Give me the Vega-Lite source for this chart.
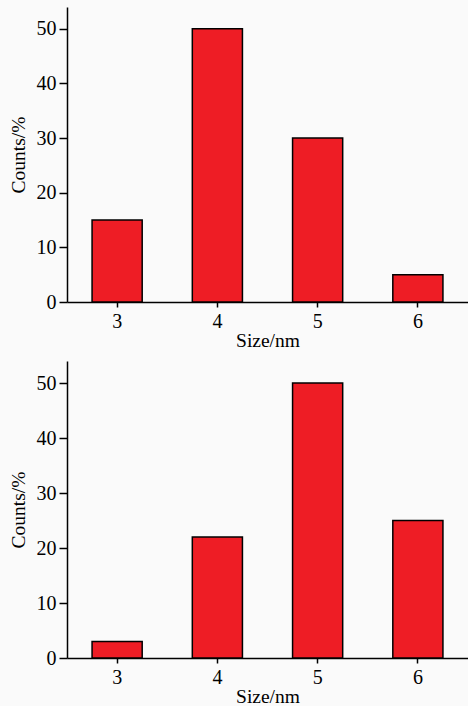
{
  "$schema": "https://vega.github.io/schema/vega-lite/v6.json",
  "background": "#fafafa",
  "padding": {"left": 8, "top": 7, "right": 0, "bottom": 0},
  "spacing": 11,
  "config": {
    "view": {"stroke": null},
    "font": "Liberation Serif",
    "axis": {
      "domainColor": "#000000",
      "domainWidth": 1.5,
      "tickColor": "#000000",
      "tickWidth": 1.5,
      "labelColor": "#000000",
      "titleColor": "#000000",
      "labelFont": "Liberation Serif",
      "titleFont": "Liberation Serif",
      "labelFontSize": 20,
      "titleFontSize": 19.5,
      "titleFontWeight": "normal",
      "grid": false
    }
  },
  "datasets": {
    "top": [
      {"size": "3", "count": 15},
      {"size": "4", "count": 50},
      {"size": "5", "count": 30},
      {"size": "6", "count": 5}
    ],
    "bottom": [
      {"size": "3", "count": 3},
      {"size": "4", "count": 22},
      {"size": "5", "count": 50},
      {"size": "6", "count": 25}
    ]
  },
  "vconcat": [
    {
      "width": 401,
      "height": 295,
      "data": {"name": "top"},
      "mark": {"type": "bar", "color": "#ee1d25", "stroke": "#000000", "strokeWidth": 1.5},
      "encoding": {
        "x": {
          "field": "size", "type": "ordinal", "title": "Size/nm",
          "scale": {"paddingInner": 0.5, "paddingOuter": 0.25},
          "axis": {"labelAngle": 0, "tickSize": 5, "labelPadding": 4, "titlePadding": 0}
        },
        "y": {
          "field": "count", "type": "quantitative", "title": "Counts/%",
          "scale": {"domain": [0, 54], "nice": false},
          "axis": {"values": [0, 10, 20, 30, 40, 50], "tickSize": 8, "labelPadding": 3, "titlePadding": 8}
        }
      }
    },
    {
      "width": 401,
      "height": 297,
      "data": {"name": "bottom"},
      "mark": {"type": "bar", "color": "#ee1d25", "stroke": "#000000", "strokeWidth": 1.5},
      "encoding": {
        "x": {
          "field": "size", "type": "ordinal", "title": "Size/nm",
          "scale": {"paddingInner": 0.5, "paddingOuter": 0.25},
          "axis": {"labelAngle": 0, "tickSize": 5, "labelPadding": 4, "titlePadding": 0}
        },
        "y": {
          "field": "count", "type": "quantitative", "title": "Counts/%",
          "scale": {"domain": [0, 54], "nice": false},
          "axis": {"values": [0, 10, 20, 30, 40, 50], "tickSize": 8, "labelPadding": 3, "titlePadding": 8}
        }
      }
    }
  ]
}
